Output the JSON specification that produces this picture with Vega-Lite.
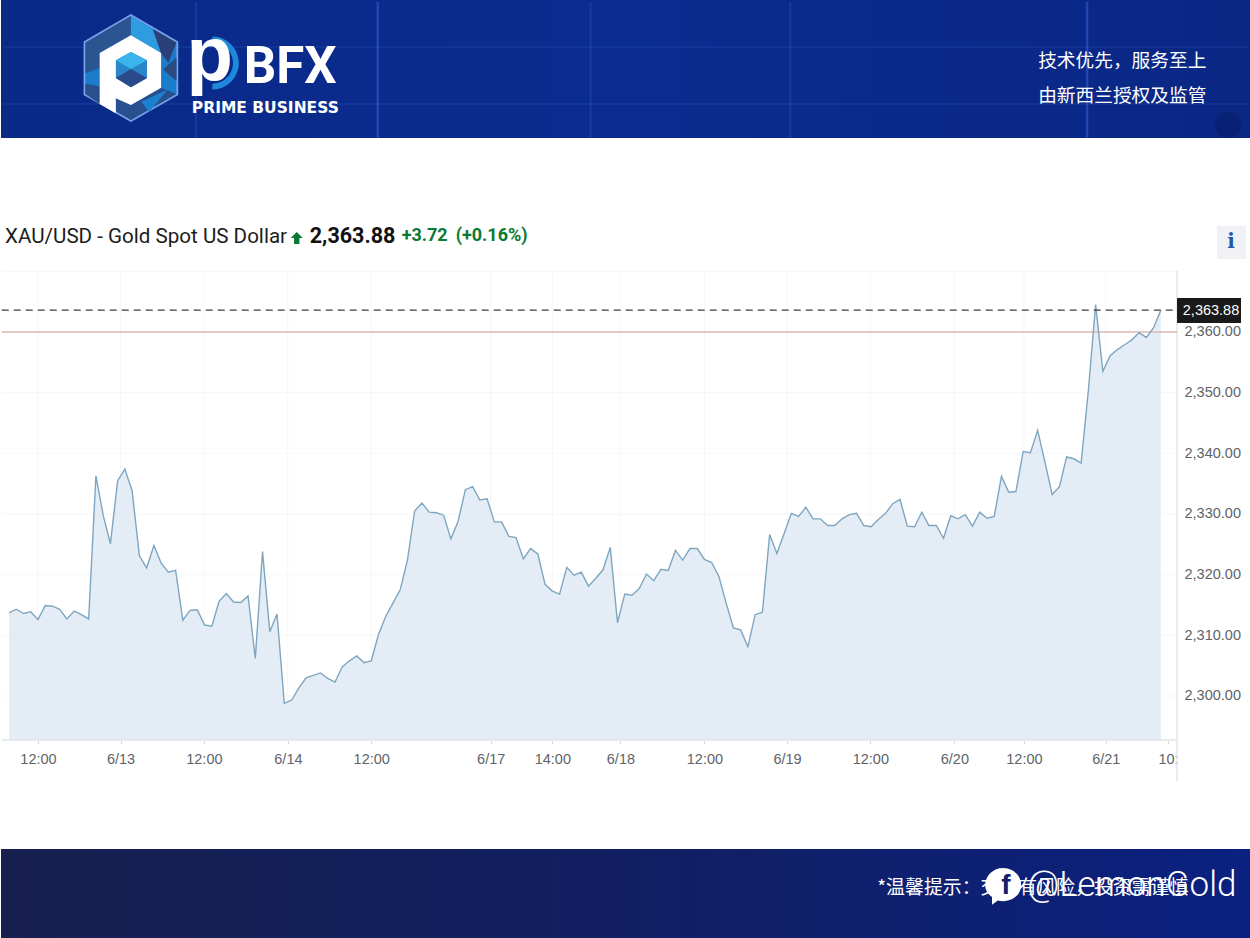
{
  "$schema": "https://vega.github.io/schema/vega-lite/v6.json",
  "width": 1250,
  "height": 938,
  "padding": 0,
  "autosize": {"type": "fit", "contains": "padding"},
  "background": "white",
  "view": {"stroke": null},
  "config": {"text": {"font": "Liberation Sans"}},
  "datasets": {
    "prices": [
      {"bar":0,"price":2313.7},{"bar":1,"price":2314.3},{"bar":2,"price":2313.6},{"bar":3,"price":2313.9},{"bar":4,"price":2312.6},{"bar":5,"price":2314.9},{"bar":6,"price":2314.8},{"bar":7,"price":2314.3},{"bar":8,"price":2312.7},{"bar":9,"price":2314.0},
      {"bar":10,"price":2313.4},{"bar":11,"price":2312.7},{"bar":12,"price":2336.3},{"bar":13,"price":2329.8},{"bar":14,"price":2325.1},{"bar":15,"price":2335.5},{"bar":16,"price":2337.4},{"bar":17,"price":2333.8},{"bar":18,"price":2323.1},{"bar":19,"price":2321.1},
      {"bar":20,"price":2324.8},{"bar":21,"price":2321.9},{"bar":22,"price":2320.4},{"bar":23,"price":2320.7},{"bar":24,"price":2312.5},{"bar":25,"price":2314.1},{"bar":26,"price":2314.2},{"bar":27,"price":2311.7},{"bar":28,"price":2311.5},{"bar":29,"price":2315.6},
      {"bar":30,"price":2316.9},{"bar":31,"price":2315.5},{"bar":32,"price":2315.4},{"bar":33,"price":2316.5},{"bar":34,"price":2306.2},{"bar":35,"price":2323.8},{"bar":36,"price":2310.6},{"bar":37,"price":2313.5},{"bar":38,"price":2298.8},{"bar":39,"price":2299.3},
      {"bar":40,"price":2301.3},{"bar":41,"price":2303.0},{"bar":42,"price":2303.4},{"bar":43,"price":2303.8},{"bar":44,"price":2302.9},{"bar":45,"price":2302.3},{"bar":46,"price":2304.8},{"bar":47,"price":2305.8},{"bar":48,"price":2306.6},{"bar":49,"price":2305.5},
      {"bar":50,"price":2305.8},{"bar":51,"price":2310.1},{"bar":52,"price":2313.1},{"bar":53,"price":2315.3},{"bar":54,"price":2317.5},{"bar":55,"price":2322.4},{"bar":56,"price":2330.5},{"bar":57,"price":2331.8},{"bar":58,"price":2330.3},{"bar":59,"price":2330.2},
      {"bar":60,"price":2329.8},{"bar":61,"price":2325.9},{"bar":62,"price":2328.8},{"bar":63,"price":2334.0},{"bar":64,"price":2334.5},{"bar":65,"price":2332.3},{"bar":66,"price":2332.5},{"bar":67,"price":2328.7},{"bar":68,"price":2328.7},{"bar":69,"price":2326.3},
      {"bar":70,"price":2326.1},{"bar":71,"price":2322.6},{"bar":72,"price":2324.3},{"bar":73,"price":2323.4},{"bar":74,"price":2318.4},{"bar":75,"price":2317.3},{"bar":76,"price":2316.8},{"bar":77,"price":2321.2},{"bar":78,"price":2319.9},{"bar":79,"price":2320.4},
      {"bar":80,"price":2318.1},{"bar":81,"price":2319.4},{"bar":82,"price":2320.8},{"bar":83,"price":2324.5},{"bar":84,"price":2312.1},{"bar":85,"price":2316.8},{"bar":86,"price":2316.6},{"bar":87,"price":2317.7},{"bar":88,"price":2320.1},{"bar":89,"price":2319.0},
      {"bar":90,"price":2320.9},{"bar":91,"price":2320.7},{"bar":92,"price":2324.0},{"bar":93,"price":2322.4},{"bar":94,"price":2324.3},{"bar":95,"price":2324.3},{"bar":96,"price":2322.5},{"bar":97,"price":2322.0},{"bar":98,"price":2319.7},{"bar":99,"price":2315.3},
      {"bar":100,"price":2311.2},{"bar":101,"price":2310.9},{"bar":102,"price":2308.1},{"bar":103,"price":2313.4},{"bar":104,"price":2313.8},{"bar":105,"price":2326.6},{"bar":106,"price":2323.5},{"bar":107,"price":2326.8},{"bar":108,"price":2330.1},{"bar":109,"price":2329.6},
      {"bar":110,"price":2331.1},{"bar":111,"price":2329.2},{"bar":112,"price":2329.2},{"bar":113,"price":2328.1},{"bar":114,"price":2328.1},{"bar":115,"price":2329.2},{"bar":116,"price":2329.9},{"bar":117,"price":2330.1},{"bar":118,"price":2328.1},{"bar":119,"price":2327.9},
      {"bar":120,"price":2329.1},{"bar":121,"price":2330.1},{"bar":122,"price":2331.7},{"bar":123,"price":2332.4},{"bar":124,"price":2328.0},{"bar":125,"price":2327.9},{"bar":126,"price":2330.3},{"bar":127,"price":2328.1},{"bar":128,"price":2328.1},{"bar":129,"price":2326.0},
      {"bar":130,"price":2329.7},{"bar":131,"price":2329.2},{"bar":132,"price":2329.9},{"bar":133,"price":2328.0},{"bar":134,"price":2330.3},{"bar":135,"price":2329.3},{"bar":136,"price":2329.6},{"bar":137,"price":2336.2},{"bar":138,"price":2333.6},{"bar":139,"price":2333.7},
      {"bar":140,"price":2340.3},{"bar":141,"price":2340.1},{"bar":142,"price":2343.8},{"bar":143,"price":2338.6},{"bar":144,"price":2333.2},{"bar":145,"price":2334.5},{"bar":146,"price":2339.4},{"bar":147,"price":2339.1},{"bar":148,"price":2338.4},{"bar":149,"price":2350.4},
      {"bar":150,"price":2364.5},{"bar":151,"price":2353.5},{"bar":152,"price":2356.1},{"bar":153,"price":2357.1},{"bar":154,"price":2357.9},{"bar":155,"price":2358.7},{"bar":156,"price":2359.9},{"bar":157,"price":2359.1},{"bar":158,"price":2360.7},{"bar":159,"price":2363.6}
    ],
    "gridY": [
      {"bar":-1,"bar2":161.24,"price":2300},{"bar":-1,"bar2":161.24,"price":2310},{"bar":-1,"bar2":161.24,"price":2320},{"bar":-1,"bar2":161.24,"price":2330},{"bar":-1,"bar2":161.24,"price":2340},{"bar":-1,"bar2":161.24,"price":2350},{"bar":-1,"bar2":161.24,"price":2370}
    ],
    "gridX": [
      {"bar":4,"price":2292.75,"price2":2370.05},{"bar":15.4,"price":2292.75,"price2":2370.05},{"bar":26.9,"price":2292.75,"price2":2370.05},{"bar":38.5,"price":2292.75,"price2":2370.05},{"bar":50,"price":2292.75,"price2":2370.05},{"bar":66.5,"price":2292.75,"price2":2370.05},{"bar":75,"price":2292.75,"price2":2370.05},{"bar":84.4,"price":2292.75,"price2":2370.05},{"bar":96,"price":2292.75,"price2":2370.05},{"bar":107.4,"price":2292.75,"price2":2370.05},{"bar":118.9,"price":2292.75,"price2":2370.05},{"bar":130.5,"price":2292.75,"price2":2370.05},{"bar":140.1,"price":2292.75,"price2":2370.05},{"bar":151.4,"price":2292.75,"price2":2370.05}
    ],
    "logo": [
      {"part":"glow","bar":16.83,"price":2403.51},{"part":"hex","bar":16.83,"price":2403.51},{"part":"darkTL","bar":16.83,"price":2403.51},{"part":"lightTop","bar":16.83,"price":2403.51},{"part":"darkTR","bar":16.83,"price":2403.51},{"part":"rightDark","bar":16.83,"price":2403.51},{"part":"leftLow","bar":16.83,"price":2403.51},{"part":"bottomDark","bar":16.83,"price":2403.51},{"part":"bottomLight","bar":16.83,"price":2403.51},{"part":"whiteP","bar":16.83,"price":2403.51},{"part":"inner","bar":16.83,"price":2403.51},{"part":"innerTop","bar":16.83,"price":2403.51},{"part":"innerBottom","bar":16.83,"price":2403.51}
    ]
  },
  "encoding": {
    "x": {
      "field": "bar",
      "type": "quantitative",
      "scale": {"domain": [-1.1034, 171.3103], "nice": false, "zero": false},
      "axis": {
        "title": null,
        "orient": "bottom",
        "offset": -198,
        "grid": false,
        "domain": false,
        "tickColor": "#d5dae0",
        "tickSize": 4,
        "labelPadding": 8,
        "labelFont": "Liberation Sans",
        "labelFontSize": 14.5,
        "labelColor": "#5f6368",
        "labelOverlap": false,
        "labelBound": false,
        "labelFlush": false,
        "values": [4, 15.4, 26.9, 38.5, 50, 66.5, 75, 84.4, 96, 107.4, 118.9, 130.5, 140.1, 151.4, 160],
        "labelExpr": "({'4':'12:00','15.4':'6/13','26.9':'12:00','38.5':'6/14','50':'12:00','66.5':'6/17','75':'14:00','84.4':'6/18','96':'12:00','107.4':'6/19','118.9':'12:00','130.5':'6/20','140.1':'12:00','151.4':'6/21','160':'10:'})[datum.value]"
      }
    },
    "y": {
      "field": "price",
      "type": "quantitative",
      "scale": {"domain": [2260.11, 2414.72], "nice": false, "zero": false},
      "axis": {
        "title": null,
        "orient": "right",
        "offset": -66,
        "grid": false,
        "domain": false,
        "ticks": false,
        "labelPadding": 0,
        "labelFont": "Liberation Sans",
        "labelFontSize": 14.5,
        "labelColor": "#5f6368",
        "labelOverlap": false,
        "labelBound": false,
        "values": [2300, 2310, 2320, 2330, 2340, 2350, 2360],
        "format": ",.2f"
      }
    }
  },
  "layer": [
    {
      "data": {"values": [{"bar": -1.1034, "bar2": 171.3103, "price": 2391.97, "price2": 2414.72}]},
      "mark": {"type": "rect", "color": {"x1": 0, "y1": 0, "x2": 1, "y2": 0, "gradient": "linear", "stops": [{"offset": 0, "color": "#0a2a88"}, {"offset": 0.5, "color": "#0a2c90"}, {"offset": 1, "color": "#0a2784"}]}},
      "encoding": {"x2": {"field": "bar2"}, "y2": {"field": "price2"}}
    },
    {
      "data": {"values": [{"bar": -1.1034, "bar2": 171.3103, "price": 2260.11, "price2": 2274.78}]},
      "mark": {"type": "rect", "color": {"x1": 0, "y1": 0, "x2": 1, "y2": 0, "gradient": "linear", "stops": [{"offset": 0, "color": "#161f4e"}, {"offset": 0.5, "color": "#111f62"}, {"offset": 1, "color": "#0b2180"}]}},
      "encoding": {"x2": {"field": "bar2"}, "y2": {"field": "price2"}}
    },
    {
      "data": {"values": [{"bar": 25.79, "price": 2391.97, "price2": 2414.4}, {"bar": 80.28, "price": 2391.97, "price2": 2414.4}, {"bar": 107.86, "price": 2391.97, "price2": 2414.4}]},
      "mark": {"type": "rule", "color": "#5f8cf0", "opacity": 0.16, "strokeWidth": 2},
      "encoding": {"y2": {"field": "price2"}}
    },
    {
      "data": {"values": [{"bar": 50.9, "price": 2391.97, "price2": 2414.4}, {"bar": 148.83, "price": 2391.97, "price2": 2414.4}]},
      "mark": {"type": "rule", "color": "#3f74f0", "opacity": 0.4, "strokeWidth": 2.5},
      "encoding": {"y2": {"field": "price2"}}
    },
    {
      "data": {"values": [{"bar": -0.9, "bar2": 171.1, "price": 2406.97}, {"bar": -0.9, "bar2": 171.1, "price": 2397.58}]},
      "mark": {"type": "rule", "color": "#5f8cf0", "opacity": 0.14, "strokeWidth": 1.5},
      "encoding": {"x2": {"field": "bar2"}}
    },
    {
      "data": {"values": [{"bar": 168.28, "price": 2394.12}]},
      "mark": {"type": "point", "filled": true, "shape": "circle", "size": 676, "opacity": 0.4, "strokeWidth": 0, "color": "#081a5c"}
    },
    {
      "data": {"name": "logo"},
      "mark": {"type": "point", "filled": true, "size": 10816, "opacity": 1, "strokeWidth": 0},
      "encoding": {
        "shape": {
          "field": "part",
          "legend": null,
          "scale": {
            "domain": ["glow", "hex", "darkTL", "lightTop", "darkTR", "rightDark", "leftLow", "bottomDark", "bottomLight", "whiteP", "inner", "innerTop", "innerBottom"],
            "range": [
              "M0,-1.04 L.91,-.51 L.91,.52 L0,1.04 L-.91,.52 L-.91,-.51 Z",
              "M0,-1 L.875,-.49 L.875,.5 L0,1 L-.875,.5 L-.875,-.49 Z",
              "M-.875,-.49 L0,-1 L0,-.63 L-.6,-.29 L-.6,0 L-.875,.1 Z",
              "M0,-1 L.42,-.75 L.58,-.29 L0,-.63 Z",
              "M.42,-.75 L.875,-.49 L.72,-.1 L.58,-.29 Z",
              "M.875,-.2 L.875,.25 L.62,.03 Z",
              "M-.875,.3 L-.6,.35 L-.6,.69 L-.875,.5 Z",
              "M-.29,.58 L0,.71 L.58,.38 L.875,.5 L0,1 L-.29,.83 Z",
              "M.2,.65 L.7,.42 L.35,.85 Z",
              "M0,-.63 L.58,-.29 L.58,.38 L0,.71 L-.29,.58 L-.29,.87 L-.6,.69 L-.6,-.29 Z",
              "M0,-.31 L.31,-.15 L.31,.19 L0,.37 L-.29,.19 L-.29,-.15 Z",
              "M0,-.31 L.31,-.15 L0,.02 L-.29,-.15 Z",
              "M-.29,.19 L0,.02 L.31,.19 L0,.37 Z"
            ]
          }
        },
        "color": {
          "field": "part",
          "legend": null,
          "scale": {
            "domain": ["glow", "hex", "darkTL", "lightTop", "darkTR", "rightDark", "leftLow", "bottomDark", "bottomLight", "whiteP", "inner", "innerTop", "innerBottom"],
            "range": ["#7ba2ea", "#1c7ccc", "#2a5590", "#2f9be0", "#2b3f78", "#2a4a80", "#2b4f8a", "#28508f", "#1c80d0", "#ffffff", "#2a86c8", "#3ab4ea", "#2a4a8c"]
          }
        }
      }
    },
    {
      "data": {"values": [{"bar": 28.07, "price": 2404.33}]},
      "mark": {"type": "point", "filled": true, "size": 2809, "opacity": 1, "strokeWidth": 0, "color": "#1e88dc", "shape": "M0,-1 C.55,-1 1,-.55 1,0 C1,.55 .55,1 0,1 L0,.78 C.43,.78 .78,.43 .78,0 C.78,-.43 .43,-.78 0,-.78 Z"}
    },
    {
      "data": {"values": [{"bar": 24.5, "price": 2401.53, "label": "p"}]},
      "mark": {"type": "text", "align": "left", "baseline": "alphabetic", "font": "Liberation Sans", "fontWeight": "bold", "fontSize": 76, "color": "white"},
      "encoding": {"text": {"field": "label"}}
    },
    {
      "data": {"values": [{"bar": 32.41, "price": 2401.0, "label": "BFX"}]},
      "mark": {"type": "text", "align": "left", "baseline": "alphabetic", "font": "Roboto", "fontWeight": "bold", "fontSize": 51, "color": "white"},
      "encoding": {"text": {"field": "label"}}
    },
    {
      "data": {"values": [{"bar": 25.24, "price": 2396.92, "label": "PRIME BUSINESS"}]},
      "mark": {"type": "text", "align": "left", "baseline": "middle", "font": "DejaVu Sans", "fontWeight": "bold", "fontSize": 15.5, "color": "white"},
      "encoding": {"text": {"field": "label"}}
    },
    {
      "data": {"values": [{"bar": 142.07, "price": 2404.67, "label": "技术优先，服务至上"}, {"bar": 142.07, "price": 2398.9, "label": "由新西兰授权及监管"}]},
      "mark": {"type": "text", "align": "left", "baseline": "middle", "font": "Noto Sans CJK SC", "fontSize": 18.7, "color": "white"},
      "encoding": {"text": {"field": "label"}}
    },
    {
      "data": {"values": [{"bar": -0.55, "price": 2375.66, "label": "XAU/USD - Gold Spot US Dollar"}]},
      "mark": {"type": "text", "align": "left", "baseline": "middle", "font": "Roboto", "fontSize": 20.6, "color": "#1c1c1c"},
      "encoding": {"text": {"field": "label"}}
    },
    {
      "data": {"values": [{"bar": 39.72, "price": 2375.5}]},
      "mark": {"type": "point", "filled": true, "size": 144, "opacity": 1, "strokeWidth": 0, "color": "#0a7a33", "shape": "M0,-1 L1,0 L.45,0 L.45,1 L-.45,1 L-.45,0 L-1,0 Z"}
    },
    {
      "data": {"values": [{"bar": 41.52, "price": 2375.66, "label": "2,363.88"}]},
      "mark": {"type": "text", "align": "left", "baseline": "middle", "font": "Roboto", "fontWeight": "bold", "fontSize": 21.5, "color": "#111111"},
      "encoding": {"text": {"field": "label"}}
    },
    {
      "data": {"values": [{"bar": 54.2, "price": 2375.8, "label": "+3.72"}, {"bar": 61.66, "price": 2375.8, "label": "(+0.16%)"}]},
      "mark": {"type": "text", "align": "left", "baseline": "middle", "font": "Roboto", "fontWeight": "bold", "fontSize": 18, "color": "#0a7a33"},
      "encoding": {"text": {"field": "label"}}
    },
    {
      "data": {"values": [{"bar": 166.76, "bar2": 170.76, "price": 2372.03, "price2": 2377.47}]},
      "mark": {"type": "rect", "color": "#eff1f4"},
      "encoding": {"x2": {"field": "bar2"}, "y2": {"field": "price2"}}
    },
    {
      "data": {"values": [{"bar": 168.69, "price": 2374.83, "label": "i"}]},
      "mark": {"type": "text", "align": "center", "baseline": "middle", "font": "DejaVu Serif", "fontWeight": "bold", "fontSize": 20, "color": "#1f5ca8"},
      "encoding": {"text": {"field": "label"}}
    },
    {
      "data": {"name": "gridX"},
      "mark": {"type": "rule", "color": "#f5f6f8", "strokeWidth": 1},
      "encoding": {"y2": {"field": "price2"}}
    },
    {
      "data": {"name": "prices"},
      "mark": {"type": "area", "color": "#e4edf5", "opacity": 1},
      "encoding": {"y2": {"datum": 2292.75}}
    },
    {
      "data": {"name": "gridY"},
      "mark": {"type": "rule", "color": "#dde2e8", "opacity": 0.25, "strokeWidth": 1},
      "encoding": {"x2": {"field": "bar2"}}
    },
    {
      "data": {"values": [{"bar": -1, "bar2": 161.24, "price": 2292.75}]},
      "mark": {"type": "rule", "color": "#dfe3e8", "strokeWidth": 1.5},
      "encoding": {"x2": {"field": "bar2"}}
    },
    {
      "data": {"values": [{"bar": 161.24, "price": 2285.99, "price2": 2370.05}]},
      "mark": {"type": "rule", "color": "#e2e5ea", "strokeWidth": 1.5},
      "encoding": {"y2": {"field": "price2"}}
    },
    {
      "data": {"values": [{"bar": -1, "bar2": 161.24, "price": 2360}]},
      "mark": {"type": "rule", "color": "#d8b8ae", "strokeWidth": 1.5},
      "encoding": {"x2": {"field": "bar2"}}
    },
    {
      "data": {"name": "prices"},
      "mark": {"type": "line", "color": "#7fa6c0", "strokeWidth": 1.4}
    },
    {
      "data": {"values": [{"bar": -1, "bar2": 161.24, "price": 2363.6}]},
      "mark": {"type": "rule", "color": "#3a3f45", "strokeWidth": 1.3, "strokeDash": [7, 5]},
      "encoding": {"x2": {"field": "bar2"}}
    },
    {
      "data": {"values": [{"bar": 161.24, "bar2": 170.07, "price": 2361.48, "price2": 2365.6}]},
      "mark": {"type": "rect", "color": "#1a1a1a"},
      "encoding": {"x2": {"field": "bar2"}, "y2": {"field": "price2"}}
    },
    {
      "data": {"values": [{"bar": 165.93, "price": 2363.5, "label": "2,363.88"}]},
      "mark": {"type": "text", "align": "center", "baseline": "middle", "fontSize": 14.5, "color": "white"},
      "encoding": {"text": {"field": "label"}}
    },
    {
      "data": {"values": [{"bar": 119.86, "price": 2268.35, "label": "*温馨提示：交易有风险，投资需谨慎"}]},
      "mark": {"type": "text", "align": "left", "baseline": "middle", "font": "Noto Sans CJK SC", "fontSize": 18.9, "color": "white"},
      "encoding": {"text": {"field": "label"}}
    },
    {
      "data": {"values": [{"bar": 137.24, "price": 2268.85}]},
      "mark": {"type": "point", "filled": true, "size": 1296, "opacity": 1, "strokeWidth": 0, "color": "white", "shape": "M0,-.95 C.55,-.95 1,-.52 1,0 C1,.52 .55,.9 0,.9 C-.1,.9 -.2,.89 -.3,.86 L-.62,1.1 L-.62,.67 C-.86,.5 -1,.27 -1,0 C-1,-.52 -.55,-.95 0,-.95 Z"}
    },
    {
      "data": {"values": [{"bar": 137.6, "price": 2268.6, "label": "f"}]},
      "mark": {"type": "text", "align": "center", "baseline": "middle", "font": "Liberation Sans", "fontWeight": "bold", "fontSize": 28, "color": "#12206a"},
      "encoding": {"text": {"field": "label"}}
    },
    {
      "data": {"values": [{"bar": 140.55, "price": 2268.85, "label": "@LemonGold"}]},
      "mark": {"type": "text", "align": "left", "baseline": "middle", "font": "Roboto", "fontWeight": 300, "fontSize": 35, "color": "white"},
      "encoding": {"text": {"field": "label"}}
    }
  ]
}
